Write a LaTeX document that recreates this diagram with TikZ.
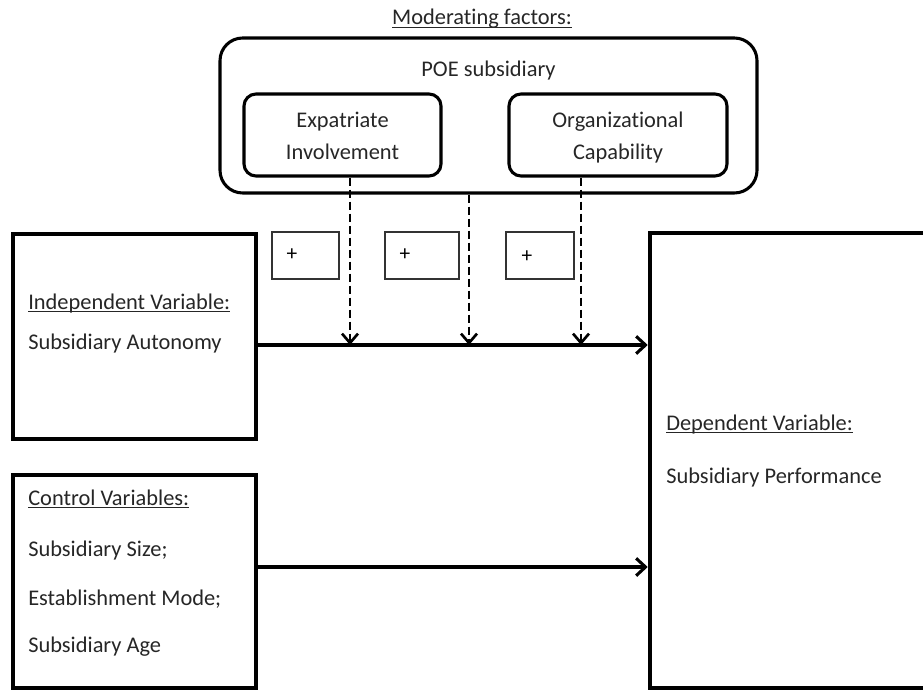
\documentclass[tikz,border=0pt]{standalone}
\usepackage{fontspec}
\setmainfont{Carlito}[RawFeature=-liga]
\usetikzlibrary{arrows.meta}
% underline set at a fixed depth below the baseline, crossing descenders
\newcommand{\ulText}[1]{\setbox0\hbox{#1}\rlap{\rule[-2.4pt]{\wd0}{0.9pt}}\box0}
\begin{document}
\begin{tikzpicture}[x=0.75pt,y=-0.75pt,
  txt/.style={inner sep=0pt, text=black!85, font=\fontsize{16.8}{23.3}\selectfont},
  bigbox/.style={draw, line width=3.4pt, inner sep=0pt},
  roundbox/.style={draw, line width=2.3pt, rounded corners=9pt, inner sep=0pt},
  outerbox/.style={draw, line width=2.3pt, rounded corners=17pt, inner sep=0pt},
  plusbox/.style={draw, black!80, line width=0.9pt, inner sep=0pt},
  plussign/.style={inner sep=0pt, font=\fontsize{16}{18}\selectfont},
  flow/.style={line width=2.3pt, -{Straight Barb[length=7pt,width=13pt]}},
  modflow/.style={line width=2pt, dash pattern=on 6pt off 3pt, -{Straight Barb[length=7pt,width=12pt]}},
]
\useasboundingbox (0,0) rectangle (923,691);
\clip (0,0) rectangle (923,691);

% heading
\node[txt, anchor=base] (head) at (482,25) {\ulText{Moderating factors:}};

% moderating factors group
\node[outerbox, minimum width=402.75pt, minimum height=116.25pt] (poe) at (488.5,115.5) {};
\node[txt, anchor=base] (poetxt) at (488.5,77) {POE subsidiary};
\node[roundbox, minimum width=147.75pt, minimum height=61.5pt] (expat) at (342.5,135) {};
\node[txt, anchor=base] (expat1) at (342.5,128) {Expatriate};
\node[txt, anchor=base] (expat2) at (342.5,160) {Involvement};
\node[roundbox, minimum width=163.5pt, minimum height=61.5pt] (orgcap) at (618,135) {};
\node[txt, anchor=base] (org1) at (618,128) {Organizational};
\node[txt, anchor=base] (org2) at (618,160) {Capability};

% sign boxes
\node[plusbox, minimum width=50.25pt, minimum height=35.25pt] (s1) at (305.5,255.5) {};
\node[plussign] (s1p) at (292,255) {+};
\node[plusbox, minimum width=55.5pt, minimum height=35.25pt] (s2) at (422,255.5) {};
\node[plussign] (s2p) at (405,255) {+};
\node[plusbox, minimum width=51pt, minimum height=35.25pt] (s3) at (540,255.5) {};
\node[plussign] (s3p) at (527,257) {+};

% independent variable
\node[bigbox, minimum width=182.25pt, minimum height=153.75pt] (indep) at (134.5,336.5) {};
\node[txt, anchor=base west] (indep1) at (28,309) {\ulText{Independent Variable:}};
\node[txt, anchor=base west] (indep2) at (28,349) {Subsidiary Autonomy};

% control variables
\node[bigbox, minimum width=182.25pt, minimum height=159.75pt] (ctrl) at (134.5,581.5) {};
\node[txt, anchor=base west] (ctrl1) at (28,505) {\ulText{Control Variables:}};
\node[txt, anchor=base west] (ctrl2) at (28,556) {Subsidiary Size;};
\node[txt, anchor=base west] (ctrl3) at (28,605) {Establishment Mode;};
\node[txt, anchor=base west] (ctrl4) at (28,652) {Subsidiary Age};

% dependent variable
\node[bigbox, minimum width=232.5pt, minimum height=341.25pt] (dep) at (805,460.5) {};
\node[txt, anchor=base west] (dep1) at (666,430) {\ulText{Dependent Variable:}};
\node[txt, anchor=base west] (dep2) at (666,483) {Subsidiary Performance};

% main paths
\coordinate (m1) at (450,345);
\coordinate (m2) at (450,567);
\draw[flow] (indep.east |- m1) -- (dep.west |- m1);
\draw[flow] (ctrl.east |- m2) -- (dep.west |- m2);

% moderating paths
\coordinate (j1) at (350,345);
\coordinate (j2) at (469,345);
\coordinate (j3) at (581,345);
\draw[modflow] (expat.south -| j1) -- (j1);
\draw[modflow] (poe.south -| j2) -- (j2);
\draw[modflow] (orgcap.south -| j3) -- (j3);
\end{tikzpicture}
\end{document}
